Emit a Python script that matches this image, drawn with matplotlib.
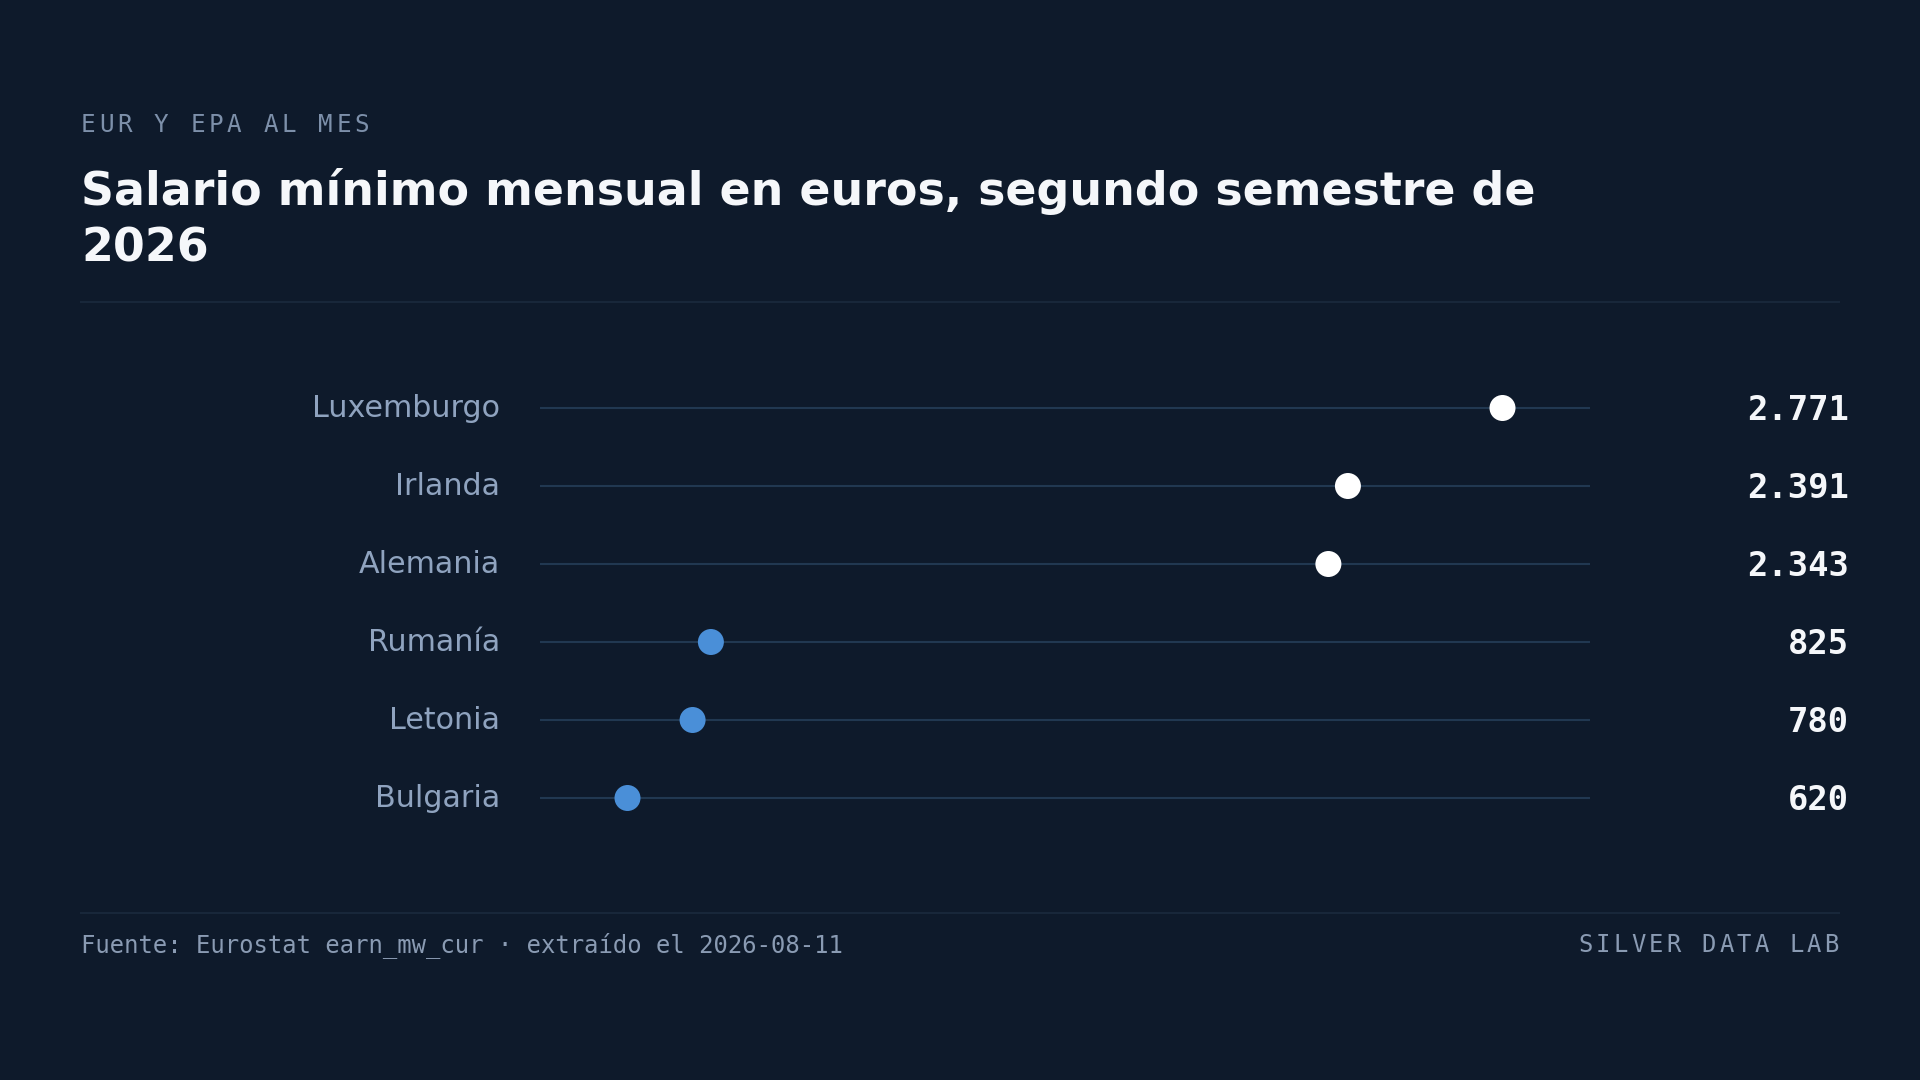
import matplotlib
matplotlib.use("Agg")
import matplotlib.pyplot as plt
import matplotlib.transforms as mtransforms

countries = ["Luxemburgo", "Irlanda", "Alemania", "Rumanía", "Letonia", "Bulgaria"]
wages = [2771, 2391, 2343, 825, 780, 620]
value_labels = ["2.771", "2.391", "2.343", "825", "780", "620"]
dot_colors = ["#ffffff", "#ffffff", "#ffffff", "#4a8fd8", "#4a8fd8", "#4a8fd8"]

BG = "#0e1a2b"
W, H = 1920, 1080

fig = plt.figure(figsize=(19.2, 10.8), dpi=100)
fig.patch.set_facecolor(BG)


def fx(px):
    return px / W


def fy(py):
    return 1 - py / H


def spaced(x, y, s, size, color, spacing, align="left"):
    # monospace text with letter spacing, one char at a time
    adv = 0.602 * size * 100 / 72 + spacing
    total = adv * (len(s) - 1) + 0.602 * size * 100 / 72
    if align == "right":
        x = x - total
    for i, ch in enumerate(s):
        fig.text(fx(x + i * adv), fy(y), ch, fontsize=size, color=color,
                 family="DejaVu Sans Mono", va="baseline", ha="left")


# header
spaced(81, 132, "EUR Y EPA AL MES", 17.5, "#7d90aa", 3.6)
title_lines = ["Salario mínimo mensual en euros, segundo semestre de", "2026"]
for k, line in enumerate(title_lines):
    fig.text(fx(81), fy(205 + 57 * k), line, fontsize=33, fontweight="bold",
             color="#f5f7fa", family="DejaVu Sans", va="baseline", ha="left")
fig.add_artist(plt.Line2D([fx(81), fx(1839)], [fy(302), fy(302)], color="#18273a", lw=1.5))

# chart
row_h = 78
top = 408 - row_h / 2
ax = fig.add_axes([fx(540), fy(top + row_h * 6), fx(1590) - fx(540), row_h * 6 / H])
ax.set_facecolor(BG)
y = list(range(len(countries)))
lo, hi = min(wages), max(wages)
pad = (hi - lo) * 0.1
ax.set_xlim(lo - pad, hi + pad)
ax.set_ylim(len(countries) - 0.5, -0.5)

for i in y:
    ax.axhline(i, color="#213851", lw=1.5, zorder=1)
ax.scatter(wages, y, s=26 ** 2 * 0.5184, c=dot_colors, zorder=3, linewidths=0)

ax.set_xticks([])
ax.set_yticks([])
for sp in ax.spines.values():
    sp.set_visible(False)

# labels sit on a baseline a bit below the row line
base = mtransforms.blended_transform_factory(fig.transFigure, ax.transData)
lab_tr = base + mtransforms.ScaledTranslation(0, -9.3 / 100, fig.dpi_scale_trans)
val_tr = base + mtransforms.ScaledTranslation(0, -11.5 / 100, fig.dpi_scale_trans)
for i, name in enumerate(countries):
    ax.text(fx(500), i, name, transform=lab_tr, ha="right", va="baseline",
            fontsize=21.7, color="#8fa3bf", family="DejaVu Sans")
for i, lab in enumerate(value_labels):
    ax.text(fx(1849), i, lab, transform=val_tr, ha="right", va="baseline",
            fontsize=24.4, fontweight="bold", color="#f5f7fa", family="DejaVu Sans Mono")

# footer
fig.add_artist(plt.Line2D([fx(81), fx(1839)], [fy(913), fy(913)], color="#18273a", lw=1.5))
fig.text(fx(81), fy(952), "Fuente: Eurostat earn_mw_cur · extraído el 2026-08-11",
         fontsize=17.2, color="#8a9bb3", family="DejaVu Sans Mono", va="baseline")
spaced(1839, 952, "SILVER DATA LAB", 17.2, "#8a9bb3", 3.2, align="right")

fig.savefig("out.png", dpi=100, facecolor=BG)
